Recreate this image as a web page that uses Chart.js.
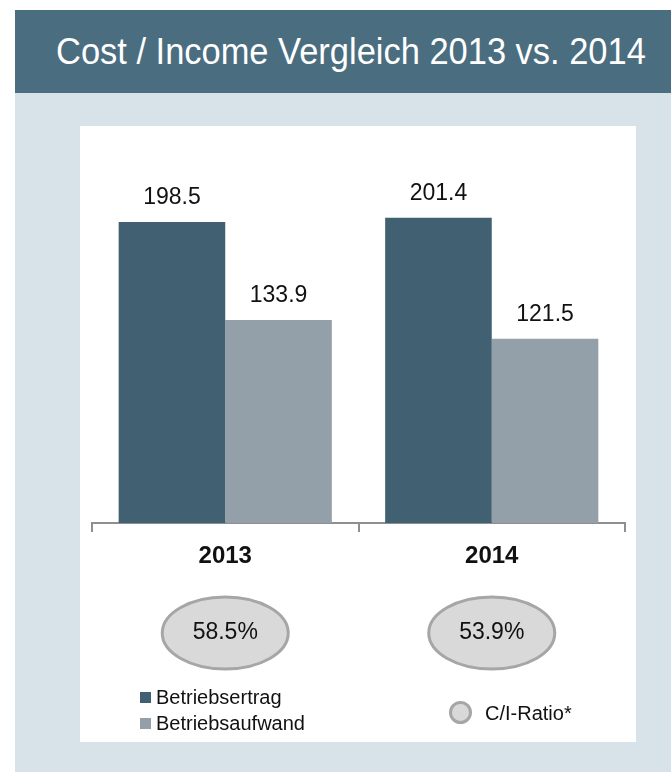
<!DOCTYPE html>
<html>
<head>
<meta charset="utf-8">
<script src="https://cdn.jsdelivr.net/npm/chart.js@4.4.1/dist/chart.umd.min.js"></script>
<style>
  body { margin: 0; width: 671px; height: 772px; background: #fff; position: relative; overflow: hidden;
         font-family: 'Liberation Sans', Arial, sans-serif; }
  #header { position: absolute; left: 15px; top: 10px; width: 656px; height: 83px; background: #4a6d80; }
  #title { position: absolute; left: 41px; top: 0; line-height: 83px; color: #fff; font-size: 36px; white-space: nowrap;
           transform: scaleX(0.957); transform-origin: left center; }
  #panel { position: absolute; left: 15px; top: 93px; width: 656px; height: 679px; background: #d8e2e9; }
  #card { position: absolute; left: 80px; top: 126px; width: 556px; height: 616px; background: #fff; }
  #chartBox { position: absolute; left: 0; top: 0; width: 556px; height: 560px; }
  .leg { position: absolute; font-size: 20px; color: #111; white-space: nowrap; line-height: 24px; }
  .sq { position: absolute; width: 11px; height: 11px; }
  .dot { position: absolute; width: 17px; height: 17px; border-radius: 50%; background: #d9d9d9; border: 3px solid #a6a6a6; }
</style>
</head>
<body>
<div id="header"><div id="title">Cost / Income Vergleich 2013 vs. 2014</div></div>
<div id="panel"></div>
<div id="card">
  <div id="chartBox"><canvas id="chart"></canvas></div>
  <div id="legend"></div>
</div>
<script>
// chart data
const years = ['2013', '2014'];
const seriesNames = ['Betriebsertrag', 'Betriebsaufwand'];
const betriebsertrag = [198.5, 201.4];
const betriebsaufwand = [133.9, 121.5];
const ciRatio = [58.5, 53.9];
const ratioLabel = 'C/I-Ratio*';
const colors = ['#416172', '#93a0aa'];

// value labels above bars + C/I ellipses under the year labels
const overlayPlugin = {
  id: 'overlay',
  afterDatasetsDraw(chart) {
    const ctx = chart.ctx;
    ctx.save();
    ctx.font = '23px "Liberation Sans", Arial, sans-serif';
    ctx.fillStyle = '#111';
    ctx.textAlign = 'center';
    ctx.textBaseline = 'middle';
    chart.data.datasets.forEach((ds, i) => {
      chart.getDatasetMeta(i).data.forEach((bar, j) => {
        ctx.fillText(ds.data[j].toFixed(1), bar.x, bar.y - 24);
      });
    });

    const xs = chart.scales.x;
    const cy = chart.chartArea.bottom + 110;
    ciRatio.forEach((r, j) => {
      const cx = xs.getPixelForValue(j);
      ctx.beginPath();
      ctx.ellipse(cx, cy, 63, 36, 0, 0, Math.PI * 2);
      ctx.fillStyle = '#d9d9d9';
      ctx.fill();
      ctx.lineWidth = 3;
      ctx.strokeStyle = '#a6a6a6';
      ctx.stroke();
      ctx.fillStyle = '#111';
      ctx.font = '23px "Liberation Sans", Arial, sans-serif';
      ctx.fillText(r.toFixed(1) + '%', cx, cy);
    });
    ctx.restore();
  }
};

new Chart(document.getElementById('chart'), {
  type: 'bar',
  data: {
    labels: years,
    datasets: [
      { label: seriesNames[0], data: betriebsertrag, backgroundColor: colors[0] },
      { label: seriesNames[1], data: betriebsaufwand, backgroundColor: colors[1] }
    ]
  },
  options: {
    responsive: true,
    maintainAspectRatio: false,
    animation: false,
    categoryPercentage: 0.8,
    barPercentage: 1.0,
    layout: { padding: { top: 18, left: 12, right: 11, bottom: 0 } },
    scales: {
      x: {
        grid: { drawOnChartArea: false, drawTicks: true, tickLength: 9, color: '#8f8f8f', lineWidth: 2 },
        border: { color: '#8f8f8f', width: 2 },
        ticks: { color: '#111', padding: 10, font: { family: '"Liberation Sans", Arial, sans-serif', size: 24, weight: 'bold' } },
        afterFit: (axis) => { axis.height = 163; }
      },
      y: { display: false, min: 0, max: 250 }
    },
    plugins: {
      legend: { display: false },
      tooltip: { enabled: false }
    }
  },
  plugins: [overlayPlugin]
});

// legend built from the series names/colours
const legend = document.getElementById('legend');
seriesNames.forEach((name, i) => {
  const top = 559 + i * 26;
  legend.insertAdjacentHTML('beforeend',
    `<div class="sq" style="left:60px;top:${top + 7}px;background:${colors[i]}"></div>` +
    `<div class="leg" style="left:76px;top:${top}px">${name}</div>`);
});
legend.insertAdjacentHTML('beforeend',
  `<div class="dot" style="left:369px;top:575px"></div>` +
  `<div class="leg" style="left:405px;top:575px">${ratioLabel}</div>`);
</script>
</body>
</html>
